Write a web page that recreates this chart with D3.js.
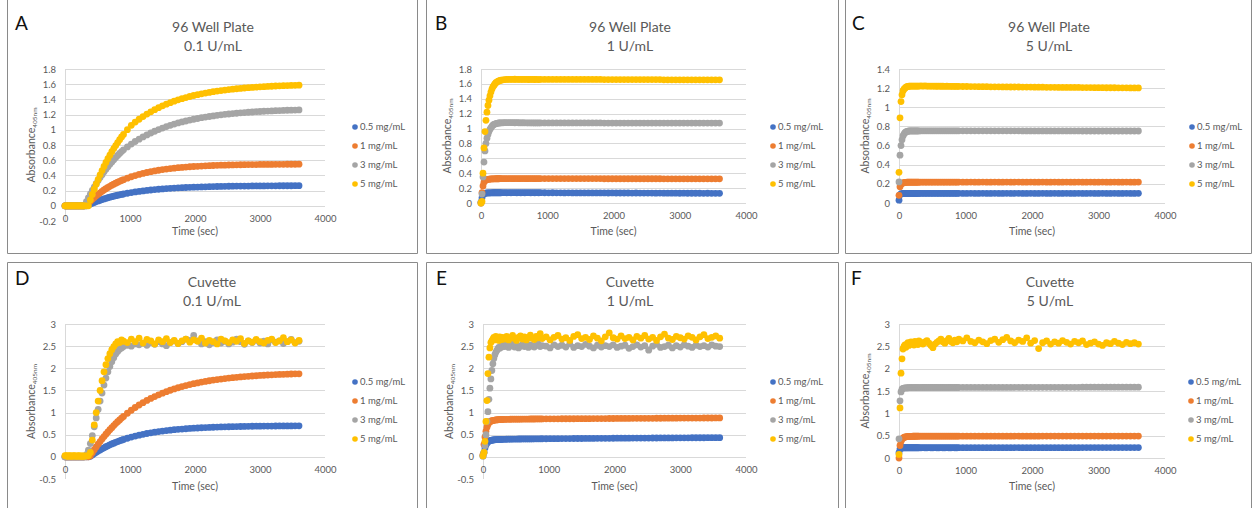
<!DOCTYPE html>
<html>
<head>
<meta charset="utf-8">
<script src="https://cdn.jsdelivr.net/npm/d3@7"></script>
<style>
  body { margin: 0; background: #fff; }
  svg { display: block; font-family: Lato, "Open Sans", sans-serif; }
</style>
</head>
<body>
<svg id="fig" width="1253" height="508"></svg>
<script>
// sampling times (sec), shared by every series
const timeSec = [
  0,15,30,45,60,75,90,105,120,135,150,165,180,195,210,225,240,255,270,285,300,
  330,360,390,420,450,480,510,540,570,600,630,660,690,720,750,780,810,840,870,900,
  960,1020,1080,1140,1200,1260,1320,1380,1440,1500,1560,1620,1680,1740,1800,1860,1920,1980,2040,2100,
  2160,2220,2280,2340,2400,2460,2520,2580,2640,2700,2760,2820,2880,2940,3000,3060,3120,3180,3240,3300,
  3360,3420,3480,3540,3600
];

const seriesNames = ['0.5 mg/mL', '1 mg/mL', '3 mg/mL', '5 mg/mL'];
const seriesColors = ['#4472C4', '#ED7D31', '#A5A5A5', '#FFC000'];
const xTicks = [0, 1000, 2000, 3000, 4000];

// A: 96 well plate, 0.1 U/mL
const A_05 = [
  0,0,0,0,0, 0,0,0,0,0, 0,0,0,0,0, 0,0,0,0,0, 0,
  0,0.012,0.023,0.034,0.045,0.055,0.064,0.073,0.082,0.090,0.098,0.106,0.113,0.120,0.127,0.133,0.139,0.145,0.150,0.155,
  0.165,0.174,0.182,0.189,0.196, 0.202,0.208,0.213,0.218,0.222, 0.226,0.230,0.233,0.236,0.238, 0.241,0.243,0.245,0.247,0.248,
  0.250,0.251,0.253,0.254,0.255, 0.256,0.257,0.258,0.259,0.259, 0.260,0.260,0.261,0.261,0.262, 0.262,0.263,0.263,0.263,0.264,
  0.264,0.264,0.264,0.265,0.265
];
const A_1 = [
  0,0,0,0,0, 0,0,0,0,0, 0,0,0,0,0, 0,0,0,0,0, 0,
  0.009,0.036,0.061,0.086,0.109,0.131,0.151,0.171,0.190,0.208,0.225,0.241,0.256,0.271,0.285,0.298,0.310,0.322,0.333,0.344,
  0.364,0.382,0.398,0.413,0.426, 0.438,0.449,0.459,0.468,0.476, 0.483,0.490,0.495,0.501,0.505, 0.509,0.514,0.517,0.520,0.523,
  0.526,0.528,0.530,0.532,0.534, 0.535,0.537,0.538,0.539,0.540, 0.541,0.542,0.542,0.543,0.544, 0.544,0.545,0.545,0.546,0.546,
  0.546,0.547,0.547,0.547,0.548
];
const A_3 = [
  0,0,0,0,0, 0,0,0,0,0, 0,0,0,0,0, 0,0,0,0,0, 0,
  0.054,0.105,0.154,0.202,0.247,0.291,0.332,0.371,0.410,0.447,0.481,0.515,0.547,0.577,0.607,0.635,0.663,0.689,0.713,0.737,
  0.775,0.812,0.846,0.877,0.906, 0.933,0.958,0.981,1.003,1.023, 1.042,1.059,1.075,1.090,1.103, 1.116,1.128,1.139,1.149,1.159,
  1.167,1.175,1.183,1.190,1.197, 1.203,1.208,1.213,1.218,1.223, 1.227,1.231,1.234,1.238,1.241, 1.244,1.246,1.248,1.251,1.253,
  1.255,1.257,1.258,1.260,1.261
];
const A_5 = [
  0,0,0,0,0, 0,0,0,0,0, 0,0,0,0,0, 0,0,0,0,0, 0,
  0,0,0.076,0.149,0.218,0.284,0.347,0.407,0.463,0.518,0.570,0.619,0.666,0.711,0.753,0.793,0.832,0.869,0.905,0.939,
  1.001,1.059,1.101,1.139,1.174, 1.207,1.237,1.265,1.291,1.315, 1.337,1.357,1.376,1.394,1.410, 1.424,1.438,1.451,1.462,1.473,
  1.483,1.492,1.501,1.509,1.516, 1.523,1.529,1.535,1.540,1.545, 1.550,1.554,1.558,1.561,1.565, 1.568,1.571,1.573,1.576,1.578,
  1.580,1.582,1.584,1.585,1.587
];

// B: 96 well plate, 1 U/mL
const B_05 = [
  0.01,0.07,0.11,0.125,0.13, 0.133,0.135,0.136,0.136,0.137, 0.137,0.137,0.138,0.138,0.138, 0.138,0.138,0.138,0.138,0.138, 0.138,
  0.139,0.139,0.138,0.139,0.138,0.139,0.139,0.138,0.139,0.138,0.139,0.138,0.139,0.139,0.138,0.139,0.138,0.139,0.138,0.139,
  0.138,0.137,0.138,0.137,0.137, 0.136,0.137,0.136,0.136,0.136, 0.135,0.136,0.135,0.135,0.135, 0.135,0.134,0.135,0.134,0.134,
  0.134,0.134,0.133,0.134,0.133, 0.133,0.133,0.133,0.132,0.133, 0.132,0.132,0.132,0.132,0.131, 0.132,0.131,0.131,0.131,0.131,
  0.130,0.131,0.130,0.130,0.130
];
const B_1 = [
  0,0.14,0.23,0.28,0.30, 0.31,0.315,0.318,0.32,0.322, 0.323,0.324,0.325,0.325,0.325, 0.326,0.326,0.326,0.326,0.327, 0.327,
  0.327,0.328,0.327,0.328,0.328,0.327,0.328,0.328,0.327,0.328,0.328,0.328,0.327,0.328,0.328,0.328,0.327,0.328,0.328,0.328,
  0.328,0.328,0.328,0.328,0.328, 0.328,0.328,0.328,0.328,0.328, 0.328,0.328,0.328,0.328,0.328, 0.326,0.326,0.326,0.326,0.326,
  0.326,0.326,0.326,0.326,0.326, 0.326,0.326,0.326,0.326,0.326, 0.325,0.325,0.325,0.325,0.325, 0.325,0.325,0.325,0.325,0.325,
  0.325,0.325,0.325,0.325,0.325
];
const B_3 = [
  0,0.12,0.35,0.55,0.70, 0.80,0.87,0.92,0.96,0.99, 1.01,1.03,1.045,1.055,1.06, 1.065,1.07,1.072,1.075,1.075, 1.077,
  1.078,1.079,1.08,1.08,1.079,1.08,1.078,1.079,1.078,1.077,1.078,1.077,1.077,1.076,1.077,1.076,1.076,1.075,1.076,1.075,
  1.075,1.075,1.075,1.075,1.075, 1.075,1.075,1.075,1.075,1.075, 1.075,1.075,1.075,1.075,1.075, 1.074,1.074,1.074,1.074,1.074,
  1.074,1.074,1.074,1.074,1.074, 1.074,1.074,1.074,1.074,1.074, 1.073,1.073,1.073,1.073,1.073, 1.073,1.073,1.073,1.073,1.073,
  1.073,1.073,1.073,1.073,1.073
];
const B_5 = [
  0,0.02,0.40,0.74,0.96, 1.11,1.22,1.31,1.38,1.44, 1.49,1.53,1.56,1.58,1.60, 1.615,1.625,1.635,1.64,1.645, 1.65,
  1.655,1.658,1.66,1.66,1.661,1.66,1.662,1.66,1.661,1.66,1.66,1.661,1.66,1.659,1.66,1.66,1.659,1.66,1.658,1.66,
  1.66,1.66,1.66,1.66,1.66, 1.66,1.66,1.66,1.66,1.66, 1.66,1.66,1.66,1.66,1.66, 1.658,1.658,1.658,1.658,1.658,
  1.658,1.658,1.658,1.658,1.658, 1.658,1.658,1.658,1.658,1.658, 1.655,1.655,1.655,1.655,1.655, 1.655,1.655,1.655,1.655,1.655,
  1.655,1.655,1.655,1.655,1.655
];

// C: 96 well plate, 5 U/mL
const C_05 = [
  0.03,0.085,0.095,0.098,0.099, 0.1,0.1,0.1,0.1,0.1, 0.1,0.1,0.1,0.1,0.1, 0.1,0.1,0.1,0.1,0.1, 0.1,
  0.1,0.101,0.1,0.1,0.101,0.1,0.1,0.101,0.1,0.1,0.101,0.1,0.1,0.101,0.1,0.1,0.101,0.1,0.1,0.101,
  0.1,0.1,0.101,0.1,0.1, 0.101,0.1,0.1,0.101,0.1, 0.1,0.101,0.1,0.1,0.101, 0.1,0.1,0.101,0.1,0.1,
  0.101,0.1,0.1,0.101,0.1, 0.1,0.101,0.1,0.1,0.101, 0.1,0.1,0.101,0.1,0.1, 0.101,0.1,0.1,0.101,0.1,
  0.1,0.101,0.1,0.1,0.101
];
const C_1 = [
  0.08,0.17,0.195,0.205,0.21, 0.213,0.215,0.216,0.217,0.218, 0.218,0.218,0.218,0.218,0.218, 0.218,0.218,0.218,0.218,0.218, 0.218,
  0.218,0.219,0.218,0.218,0.219,0.218,0.218,0.219,0.218,0.218,0.219,0.218,0.218,0.219,0.218,0.218,0.219,0.218,0.218,0.219,
  0.218,0.218,0.219,0.218,0.218, 0.219,0.218,0.218,0.219,0.218, 0.218,0.219,0.218,0.218,0.219, 0.218,0.218,0.219,0.218,0.218,
  0.219,0.218,0.218,0.219,0.218, 0.218,0.219,0.218,0.218,0.219, 0.218,0.218,0.219,0.218,0.218, 0.219,0.218,0.218,0.219,0.218,
  0.218,0.219,0.218,0.218,0.219
];
const C_3 = [
  0.22,0.50,0.60,0.66,0.70, 0.72,0.735,0.742,0.748,0.75, 0.752,0.753,0.753,0.753,0.753, 0.753,0.753,0.753,0.753,0.753, 0.753,
  0.754,0.754,0.754,0.754,0.754,0.754,0.754,0.754,0.754,0.754,0.754,0.754,0.754,0.754,0.754,0.754,0.754,0.754,0.754,0.754,
  0.754,0.754,0.754,0.754,0.754, 0.754,0.754,0.754,0.754,0.754, 0.754,0.754,0.754,0.754,0.754, 0.753,0.753,0.753,0.753,0.753,
  0.753,0.753,0.753,0.753,0.753, 0.753,0.753,0.753,0.753,0.753, 0.752,0.752,0.752,0.752,0.752, 0.752,0.752,0.752,0.752,0.752,
  0.752,0.752,0.752,0.752,0.752
];
const C_5 = [
  0.32,0.89,1.06,1.13,1.17, 1.19,1.20,1.21,1.215,1.218, 1.22,1.222,1.222,1.222,1.222, 1.222,1.222,1.222,1.222,1.222, 1.222,
  1.223,1.222,1.223,1.222,1.221,1.222,1.221,1.221,1.22,1.221,1.22,1.22,1.219,1.22,1.219,1.219,1.218,1.219,1.218,1.218,
  1.217,1.217,1.216,1.216,1.215, 1.215,1.215,1.214,1.214,1.214, 1.213,1.213,1.212,1.212,1.212, 1.211,1.211,1.211,1.21,1.21,
  1.21,1.209,1.209,1.209,1.208, 1.208,1.208,1.207,1.207,1.207, 1.206,1.206,1.206,1.205,1.205, 1.205,1.204,1.204,1.204,1.203,
  1.203,1.203,1.202,1.202,1.202
];

// D: cuvette, 0.1 U/mL
const D_05 = [
  0,0,0,0,0, 0,0,0,0,0, 0,0,0,0,0, 0,0,0,0,0, 0,
  0,0,0.011,0.043,0.073,0.102,0.130,0.156,0.181,0.205,0.228,0.250,0.271,0.291,0.310,0.328,0.345,0.361,0.377,0.392,
  0.420,0.446,0.469,0.490,0.509, 0.527,0.543,0.557,0.570,0.582, 0.593,0.603,0.613,0.621,0.628, 0.635,0.641,0.647,0.652,0.657,
  0.661,0.665,0.669,0.672,0.675, 0.678,0.680,0.682,0.684,0.686, 0.688,0.689,0.691,0.692,0.693, 0.694,0.695,0.696,0.697,0.698,
  0.698,0.699,0.699,0.700,0.700
];
const D_1 = [
  0,0,0,0,0, 0,0,0,0,0, 0,0,0,0,0, 0,0,0,0,0, 0,
  0,0,0.024,0.093,0.160,0.224,0.286,0.346,0.403,0.458,0.512,0.563,0.613,0.660,0.706,0.751,0.794,0.835,0.875,0.913,
  0.985,1.052,1.114,1.171,1.224, 1.274,1.320,1.362,1.401,1.438, 1.472,1.504,1.534,1.561,1.586, 1.610,1.632,1.652,1.670,1.688,
  1.704,1.719,1.733,1.745,1.757, 1.768,1.778,1.788,1.797,1.805, 1.812,1.819,1.826,1.832,1.838, 1.843,1.848,1.852,1.857,1.861,
  1.864,1.868,1.871,1.874,1.876
];
const D_3 = [
  0,0,0,0,0, 0,0,0,0,0, 0,0,0,0,0, 0,0,0,0,0, 0,
  0.05,0.15,0.30,0.48,0.68,0.88,1.07,1.26,1.44,1.62,1.78,1.92,2.04,2.15,2.24,2.32,2.38,2.43,2.46,2.49,
  2.52,2.50,2.55,2.53,2.57, 2.52,2.58,2.54,2.60,2.55, 2.51,2.58,2.62,2.56,2.60, 2.66,2.63,2.74,2.62,2.55,
  2.60,2.53,2.58,2.64,2.57, 2.61,2.55,2.59,2.66,2.60, 2.54,2.62,2.58,2.63,2.57, 2.61,2.55,2.64,2.59,2.62,
  2.56,2.60,2.65,2.58,2.61
];
const D_5 = [
  0.03,0.02,0.03,0.01,0.02, 0.03,0.02,0.01,0.02,0.03, 0.02,0.02,0.01,0.02,0.03, 0.02,0.01,0.02,0.02,0.01, 0.02,
  0.02,0.03,0.10,0.38,0.72,1.00,1.26,1.50,1.72,1.92,2.08,2.22,2.33,2.42,2.49,2.55,2.60,2.58,2.64,2.61,
  2.58,2.66,2.60,2.68,2.57, 2.65,2.62,2.55,2.64,2.60, 2.67,2.58,2.63,2.56,2.62, 2.66,2.59,2.64,2.61,2.68,
  2.57,2.63,2.60,2.55,2.66, 2.62,2.58,2.64,2.61,2.67, 2.56,2.62,2.59,2.65,2.60, 2.57,2.63,2.66,2.58,2.62,
  2.69,2.60,2.64,2.57,2.63
];

// E: cuvette, 1 U/mL
const E_05 = [
  0.02,0.10,0.20,0.27,0.31, 0.34,0.355,0.365,0.372,0.377, 0.381,0.384,0.386,0.388,0.390, 0.391,0.392,0.393,0.394,0.395, 0.396,
  0.397,0.398,0.399,0.400,0.401,0.401,0.402,0.403,0.403,0.404,0.404,0.405,0.405,0.406,0.406,0.407,0.407,0.408,0.408,0.409,
  0.409,0.410,0.411,0.411,0.412, 0.413,0.413,0.414,0.415,0.415, 0.416,0.416,0.417,0.418,0.418, 0.419,0.419,0.420,0.421,0.421,
  0.422,0.422,0.423,0.423,0.424, 0.425,0.425,0.426,0.426,0.427, 0.427,0.428,0.428,0.429,0.429, 0.430,0.430,0.431,0.431,0.432,
  0.432,0.433,0.433,0.434,0.434
];
const E_1 = [
  0.05,0.28,0.45,0.58,0.67, 0.73,0.77,0.79,0.805,0.815, 0.82,0.825,0.83,0.833,0.836, 0.838,0.84,0.842,0.843,0.844, 0.845,
  0.846,0.847,0.848,0.849,0.850,0.850,0.851,0.852,0.852,0.853,0.853,0.854,0.854,0.855,0.855,0.855,0.856,0.856,0.857,0.857,
  0.858,0.858,0.859,0.859,0.860, 0.860,0.861,0.861,0.862,0.862, 0.863,0.863,0.864,0.864,0.865, 0.865,0.866,0.866,0.867,0.867,
  0.868,0.868,0.869,0.869,0.870, 0.870,0.871,0.871,0.872,0.872, 0.873,0.873,0.874,0.874,0.875, 0.875,0.875,0.876,0.876,0.876,
  0.877,0.877,0.877,0.878,0.878
];
const E_3 = [
  0.02,0.10,0.25,0.50,0.80, 1.02,1.30,1.55,1.76,1.95, 2.10,2.22,2.30,2.36,2.40, 2.44,2.47,2.45,2.50,2.48, 2.52,
  2.49,2.53,2.47,2.51,2.55,2.48,2.52,2.46,2.50,2.54,2.49,2.51,2.47,2.53,2.50,2.48,2.52,2.55,2.49,2.51,
  2.50,2.46,2.53,2.49,2.52, 2.48,2.55,2.47,2.51,2.49, 2.54,2.50,2.46,2.52,2.48, 2.51,2.49,2.53,2.47,2.50,
  2.52,2.45,2.49,2.53,2.48, 2.51,2.41,2.50,2.54,2.47, 2.49,2.52,2.46,2.51,2.48, 2.53,2.50,2.47,2.52,2.49,
  2.51,2.48,2.53,2.50,2.49
];
const E_5 = [
  0.02,0.10,0.35,0.80,1.27, 1.88,2.25,2.46,2.58,2.62, 2.66,2.70,2.64,2.72,2.66, 2.69,2.63,2.71,2.67,2.65, 2.70,
  2.66,2.72,2.64,2.69,2.74,2.67,2.63,2.70,2.73,2.66,2.71,2.64,2.69,2.75,2.68,2.65,2.72,2.69,2.78,2.67,
  2.71,2.64,2.70,2.74,2.66, 2.69,2.63,2.72,2.76,2.67, 2.70,2.65,2.73,2.68,2.62, 2.71,2.80,2.69,2.66,2.73,
  2.67,2.70,2.64,2.72,2.68, 2.74,2.66,2.70,2.63,2.71, 2.77,2.68,2.65,2.72,2.69, 2.66,2.73,2.70,2.64,2.71,
  2.76,2.67,2.70,2.73,2.68
];

// F: cuvette, 5 U/mL
const F_05 = [
  0.12,0.20,0.22,0.225,0.228, 0.23,0.23,0.23,0.23,0.23, 0.23,0.23,0.23,0.23,0.23, 0.23,0.23,0.23,0.23,0.23, 0.23,
  0.23,0.231,0.23,0.23,0.231,0.23,0.23,0.231,0.23,0.23,0.231,0.23,0.23,0.231,0.23,0.23,0.231,0.23,0.23,0.231,
  0.231,0.231,0.231,0.231,0.231, 0.231,0.231,0.231,0.231,0.231, 0.231,0.231,0.231,0.231,0.231, 0.232,0.232,0.232,0.232,0.232,
  0.232,0.232,0.232,0.232,0.232, 0.232,0.232,0.232,0.232,0.232, 0.233,0.233,0.233,0.233,0.233, 0.233,0.233,0.233,0.233,0.233,
  0.233,0.233,0.233,0.233,0.233
];
const F_1 = [
  0,0.28,0.37,0.42,0.445, 0.46,0.47,0.475,0.48,0.482, 0.484,0.485,0.486,0.486,0.487, 0.487,0.487,0.488,0.488,0.488, 0.488,
  0.488,0.488,0.488,0.488,0.488,0.488,0.488,0.488,0.488,0.488,0.488,0.488,0.488,0.488,0.488,0.488,0.488,0.488,0.488,0.488,
  0.489,0.489,0.489,0.489,0.489, 0.489,0.489,0.489,0.489,0.489, 0.489,0.489,0.489,0.489,0.489, 0.489,0.489,0.489,0.489,0.489,
  0.49,0.49,0.49,0.49,0.49, 0.49,0.49,0.49,0.49,0.49, 0.49,0.49,0.49,0.49,0.49, 0.49,0.49,0.49,0.49,0.49,
  0.49,0.49,0.49,0.49,0.49
];
const F_3 = [
  0.43,1.28,1.48,1.54,1.56, 1.565,1.57,1.57,1.572,1.573, 1.574,1.574,1.575,1.575,1.575, 1.576,1.576,1.576,1.577,1.577, 1.577,
  1.578,1.578,1.578,1.578,1.578,1.578,1.578,1.578,1.578,1.578,1.578,1.578,1.578,1.578,1.578,1.578,1.578,1.578,1.578,1.578,
  1.58,1.58,1.58,1.58,1.58, 1.58,1.58,1.58,1.58,1.58, 1.58,1.58,1.58,1.58,1.58, 1.582,1.582,1.582,1.582,1.582,
  1.582,1.582,1.582,1.582,1.582, 1.582,1.582,1.582,1.582,1.582, 1.585,1.585,1.585,1.585,1.585, 1.585,1.585,1.585,1.585,1.585,
  1.585,1.585,1.585,1.585,1.585
];
const F_5 = [
  0.08,1.12,1.90,2.22,2.44, 2.50,2.53,2.48,2.55,2.58, 2.52,2.56,2.60,2.55,2.58, 2.53,2.61,2.57,2.59,2.54, 2.62,
  2.58,2.55,2.60,2.63,2.57,2.52,2.47,2.55,2.59,2.62,2.66,2.60,2.57,2.63,2.68,2.61,2.58,2.64,2.60,2.66,
  2.62,2.69,2.61,2.58,2.64, 2.60,2.56,2.63,2.66,2.59, 2.65,2.70,2.62,2.58,2.64, 2.61,2.69,2.57,2.63,2.45,
  2.58,2.62,2.55,2.60,2.57, 2.63,2.59,2.55,2.61,2.58, 2.62,2.54,2.57,2.60,2.55, 2.52,2.58,2.56,2.61,2.57,
  2.54,2.59,2.56,2.58,2.55
];

const yTicksA = [-0.2, 0, 0.2, 0.4, 0.6, 0.8, 1, 1.2, 1.4, 1.6, 1.8];
const yTicksB = [0, 0.2, 0.4, 0.6, 0.8, 1, 1.2, 1.4, 1.6, 1.8];
const yTicksC = [0, 0.2, 0.4, 0.6, 0.8, 1, 1.2, 1.4];
const yTicksDE = [-0.5, 0, 0.5, 1, 1.5, 2, 2.5, 3];
const yTicksF = [0, 0.5, 1, 1.5, 2, 2.5, 3];

// layout of the six panels
const topRow = { titleY: 32, letterY: 30, legendY: 127, xTitleY: 235, frame: 'top' };
const botRow = { titleY: 287, letterY: 285, legendY: 382, xTitleY: 490, frame: 'bottom' };
const panels = [
  { row: topRow, letter: 'A', letterX: 15, title: ['96 Well Plate', '0.1 U/mL'], titleX: 213, box: [7.5, 417.5],
    left: 65, right: 325, top: 69, bottom: 221, yTicks: yTicksA, series: [A_05, A_1, A_3, A_5], legendX: 355 },
  { row: topRow, letter: 'B', letterX: 435, title: ['96 Well Plate', '1 U/mL'], titleX: 630, box: [426.5, 838.5],
    left: 481, right: 746, top: 69, bottom: 203, yTicks: yTicksB, series: [B_05, B_1, B_3, B_5], legendX: 773 },
  { row: topRow, letter: 'C', letterX: 852, title: ['96 Well Plate', '5 U/mL'], titleX: 1049, box: [845.5, 1251.5],
    left: 899, right: 1165, top: 69, bottom: 203, yTicks: yTicksC, series: [C_05, C_1, C_3, C_5], legendX: 1192 },
  { row: botRow, letter: 'D', letterX: 15, title: ['Cuvette', '0.1 U/mL'], titleX: 212, box: [7.5, 417.5],
    left: 65, right: 325, top: 324, bottom: 479, yTicks: yTicksDE, series: [D_05, D_1, D_3, D_5], legendX: 355 },
  { row: botRow, letter: 'E', letterX: 436, title: ['Cuvette', '1 U/mL'], titleX: 630, box: [426.5, 838.5],
    left: 483, right: 746, top: 324, bottom: 479, yTicks: yTicksDE, series: [E_05, E_1, E_3, E_5], legendX: 773 },
  { row: botRow, letter: 'F', letterX: 851, title: ['Cuvette', '5 U/mL'], titleX: 1050, box: [845.5, 1251.5],
    left: 899, right: 1165, top: 324, bottom: 458, yTicks: yTicksF, series: [F_05, F_1, F_3, F_5], legendX: 1191 }
];

const svg = d3.select('#fig');
svg.append('rect').attr('width', 1253).attr('height', 508).attr('fill', '#fff');

const textGrey = '#595959';
const gridGrey = '#d9d9d9';
const fmt = v => String(Math.round(v * 10) / 10);

panels.forEach(p => {
  const g = svg.append('g');
  const [bx0, bx1] = p.box;

  // panel frame
  const frame = p.row.frame === 'top'
    ? `M${bx0},0V253.5H${bx1}V0`
    : `M${bx0},520V262.5H${bx1}V520`;
  g.append('path').attr('d', frame).attr('fill', 'none').attr('stroke', '#8a8a8a');

  const x = d3.scaleLinear().domain([0, 4000]).range([p.left, p.right]);
  const yMin = d3.min(p.yTicks), yMax = d3.max(p.yTicks);
  const y = d3.scaleLinear().domain([yMin, yMax]).range([p.bottom, p.top]);

  // horizontal gridlines (none at a negative minimum)
  g.append('g').selectAll('line')
    .data(p.yTicks.filter(v => v >= 0))
    .join('line')
    .attr('x1', p.left).attr('x2', p.right)
    .attr('y1', d => Math.round(y(d)) + 0.5).attr('y2', d => Math.round(y(d)) + 0.5)
    .attr('stroke', gridGrey);

  // vertical axis line
  g.append('line')
    .attr('x1', p.left + 0.5).attr('x2', p.left + 0.5)
    .attr('y1', p.top).attr('y2', p.bottom)
    .attr('stroke', gridGrey);

  // y tick labels
  const yAxis = g.append('g')
    .attr('transform', `translate(${p.left - 2},0)`)
    .call(d3.axisLeft(y).tickValues(p.yTicks).tickSize(0).tickPadding(7).tickFormat(fmt));
  yAxis.select('.domain').remove();
  yAxis.selectAll('text').attr('fill', textGrey).style('font-size', '9.5px').style('font-family', 'Lato');

  // x tick labels just below the zero line
  const xAxis = g.append('g')
    .attr('transform', `translate(0,${y(0)})`)
    .call(d3.axisBottom(x).tickValues(xTicks).tickSize(0).tickPadding(9).tickFormat(d3.format('d')));
  xAxis.select('.domain').remove();
  xAxis.selectAll('text').attr('fill', textGrey).style('font-size', '9.5px').style('font-family', 'Lato');

  // series, drawn as dots
  p.series.forEach((vals, i) => {
    const pts = d3.zip(timeSec, vals).filter(d => d[1] !== undefined);
    g.append('g').selectAll('circle')
      .data(pts)
      .join('circle')
      .attr('cx', d => x(d[0]))
      .attr('cy', d => y(d[1]))
      .attr('r', 3.4)
      .attr('fill', seriesColors[i]);
  });

  // axis titles
  g.append('text')
    .attr('x', (p.left + p.right) / 2).attr('y', p.row.xTitleY)
    .attr('text-anchor', 'middle').attr('fill', textGrey)
    .style('font-size', '10.5px')
    .text('Time (sec)');

  const yt = g.append('text')
    .attr('transform', `translate(${p.left - 30},${(p.top + p.bottom) / 2}) rotate(-90)`)
    .attr('text-anchor', 'middle').attr('fill', textGrey)
    .style('font-size', '10.5px');
  yt.append('tspan').text('Absorbance');
  yt.append('tspan').attr('dy', 2).style('font-size', '6.5px').text('405nm');

  // chart title
  p.title.forEach((t, k) => {
    g.append('text')
      .attr('x', p.titleX).attr('y', p.row.titleY + k * 19)
      .attr('text-anchor', 'middle').attr('fill', textGrey)
      .style('font-size', '14px')
      .text(t);
  });

  // panel letter
  g.append('text')
    .attr('x', p.letterX).attr('y', p.row.letterY)
    .attr('fill', '#111')
    .style('font-size', '19px')
    .text(p.letter);

  // legend
  const lg = g.append('g').selectAll('g')
    .data(seriesNames)
    .join('g')
    .attr('transform', (d, i) => `translate(${p.legendX},${p.row.legendY + i * 19})`);
  lg.append('circle').attr('r', 2.8).attr('fill', (d, i) => seriesColors[i]);
  lg.append('text')
    .attr('x', 5).attr('dy', '0.35em')
    .attr('fill', textGrey)
    .style('font-size', '9.5px')
    .text(d => d);
});
</script>
</body>
</html>
